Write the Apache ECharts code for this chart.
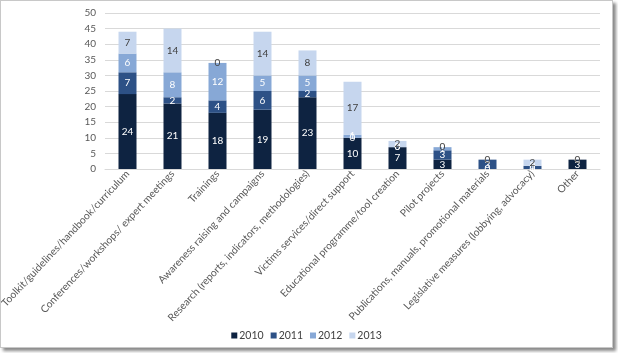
<!DOCTYPE html>
<html>
<head>
<meta charset="utf-8">
<script src="https://cdn.jsdelivr.net/npm/echarts@6/dist/echarts.min.js"></script>
<style>
  html, body { margin: 0; padding: 0; background: #fff; }
  .frame {
    position: absolute; left: 0; top: 0;
    width: 611px; height: 346px;
    border: 1px solid #c8c8c8;
    box-shadow: 3px 3px 3px #8a8a8a;
    background: #fff;
  }
  #chart { width: 611px; height: 346px; }
</style>
</head>
<body>
<div class="frame"><div id="chart"></div></div>
<script>
// categories and values
var categories = [
  'Toolkit/guidelines/handbook/curriculum',
  'Conferences/workshops/ expert meetings',
  'Trainings',
  'Awareness raising and campaigns',
  'Research (reports, indicators, methodologies)',
  'Victims services/direct support',
  'Educational programme/tool creation',
  'Pilot projects',
  'Publications, manuals, promotional materials',
  'Legislative measures (lobbying, advocacy)',
  'Other'
];
var years = ['2010', '2011', '2012', '2013'];
var v2010 = [24, 21, 18, 19, 23, 10, 7, 3, 0, 0, 3];
var v2011 = [7, 2, 4, 6, 2, 0, 0, 3, 3, 1, 0];
var v2012 = [6, 8, 12, 5, 5, 1, 0, 1, 0, 0, 0];
var v2013 = [7, 14, 0, 14, 8, 17, 2, 0, 0, 2, 0];
var yTicks = { min: 0, max: 50, interval: 5 };

var colors = ['#0e2341', '#2d5186', '#87a8d6', '#c6d6ee'];
var labelColors = ['#ffffff', '#ffffff', '#ffffff', '#404040'];
var font = 'Lato, "Open Sans", sans-serif';

var seriesData = [v2010, v2011, v2012, v2013];
var series = years.map(function (y, i) {
  return {
    name: y,
    type: 'bar',
    stack: 'all',
    barWidth: 18,
    data: seriesData[i],
    itemStyle: { color: colors[i] },
    label: {
      show: true,
      position: 'inside',
      color: labelColors[i],
      fontSize: 10,
      fontFamily: font
    }
  };
});

var chart = echarts.init(document.getElementById('chart'));
chart.setOption({
  animation: false,
  grid: { left: 104, right: 12, top: 12, bottom: 178, containLabel: false, outerBoundsMode: 'none' },
  legend: {
    bottom: 1,
    left: 'center',
    data: years,
    icon: 'rect',
    itemWidth: 6,
    itemHeight: 6,
    itemGap: 7,
    textStyle: { color: '#404040', fontSize: 10.5, fontFamily: font, padding: [0, 0, 0, -3] }
  },
  xAxis: {
    type: 'category',
    data: categories,
    axisLine: { lineStyle: { color: '#d9d9d9' } },
    axisTick: { show: false },
    axisLabel: {
      rotate: 47,
      interval: 0,
      color: '#595959',
      fontSize: 10.3,
      fontFamily: font,
      margin: 3
    }
  },
  yAxis: {
    type: 'value',
    min: yTicks.min,
    max: yTicks.max,
    interval: yTicks.interval,
    axisLine: { show: false },
    axisTick: { show: false },
    splitLine: { lineStyle: { color: '#d9d9d9' } },
    axisLabel: { color: '#595959', fontSize: 10, fontFamily: font, margin: 9 }
  },
  series: series
});
</script>
</body>
</html>
